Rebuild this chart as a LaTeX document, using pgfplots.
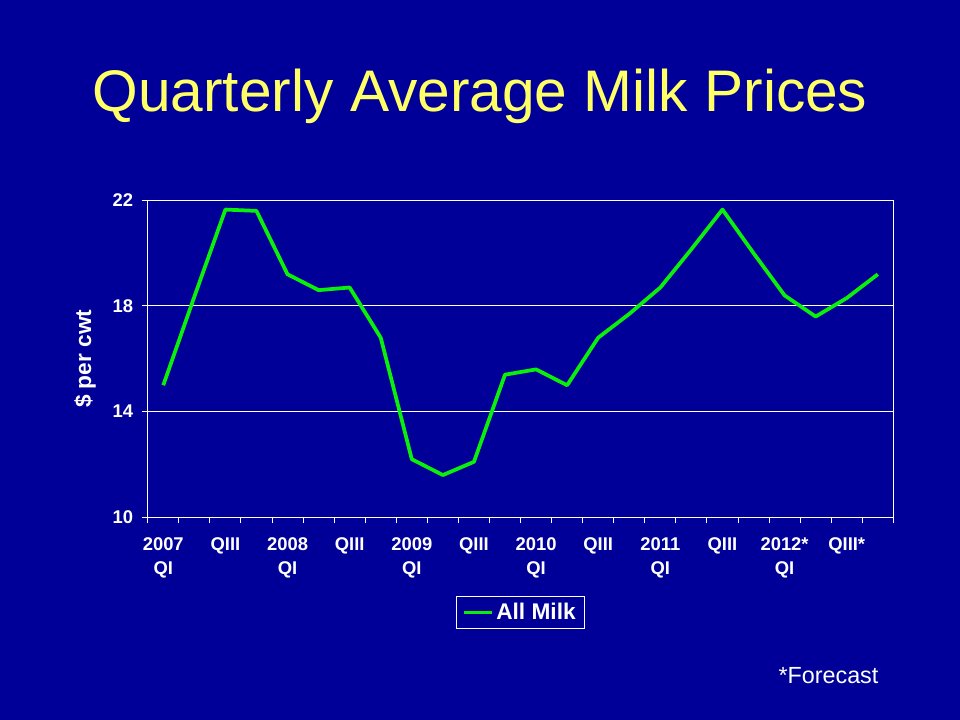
\documentclass[border=0pt]{standalone}
\usepackage{pgfplots}
\pgfplotsset{compat=1.18}
\usepackage{fontspec}
\setmainfont{Liberation Sans}

\definecolor{slideblue}{RGB}{0,0,153}
\definecolor{titleyellow}{RGB}{255,255,102}
\definecolor{milkgreen}{RGB}{10,240,10}

\begin{document}
\begin{tikzpicture}
\path[use as bounding box, fill=slideblue] (0,0) rectangle (720pt,540pt);

% title
\node[anchor=base, text=titleyellow, font=\fontsize{44}{50}\selectfont, inner sep=0pt]
  at (360pt,456.2pt) {Quarterly Average Milk Prices};

\begin{axis}[
  at={(110.8pt,152pt)}, anchor=south west,
  scale only axis,
  width=559.2pt, height=237.75pt,
  xmin=0.5, xmax=24.5,
  ymin=10, ymax=22,
  ytick={10,14,18,22},
  xtick={1,3,...,23},
  xticklabels={{2007\\QI},QIII,{2008\\QI},QIII,{2009\\QI},QIII,{2010\\QI},QIII,{2011\\QI},QIII,{2012*\\QI},QIII*},
  minor xtick={0.5,1.5,...,24.5},
  major x tick style={draw=none},
  tick align=outside,
  xtick pos=bottom, ytick pos=left,
  major tick length=4.5pt, minor tick length=4.5pt,
  every tick/.style={white, line width=0.75pt},
  axis line style={white, line width=0.75pt},
  ymajorgrids=true,
  grid style={white, line width=0.75pt},
  /pgf/number format/assume math mode=true,
  tick label style={text=white, font=\bfseries\fontsize{13.8}{18}\selectfont},
  xticklabel style={align=center, anchor=north, yshift=-7pt},
  yticklabel style={anchor=east, xshift=-3pt},
  ylabel={\$ per cwt},
  ylabel style={at={(axis description cs:-0.0841,0.5)}, anchor=center, text=white, font=\bfseries\fontsize{17}{20}\selectfont},
  legend style={at={(0.5,-0.300)}, anchor=center, fill=slideblue, draw=white, line width=0.75pt,
    text=white, font=\bfseries\fontsize{17}{20}\selectfont, inner xsep=4.5pt, inner ysep=3pt},
  legend image code/.code={\draw[#1, line width=2.2pt] (0pt,0pt) -- (21pt,0pt);},
]
\addplot[milkgreen, line width=2.8pt, line join=round] coordinates {
  (1,15.0) (2,18.35) (3,21.65) (4,21.6) (5,19.2) (6,18.6) (7,18.7) (8,16.8)
  (9,12.2) (10,11.6) (11,12.1) (12,15.4) (13,15.6) (14,15.0) (15,16.8) (16,17.7)
  (17,18.7) (18,20.15) (19,21.65) (20,20.0) (21,18.4) (22,17.6) (23,18.3) (24,19.2)
};
\addlegendentry{All Milk}
\end{axis}

\node[anchor=base west, text=white, font=\fontsize{17.5}{20}\selectfont, inner sep=0pt]
  at (583.7pt,27.5pt) {*Forecast};
\end{tikzpicture}
\end{document}
